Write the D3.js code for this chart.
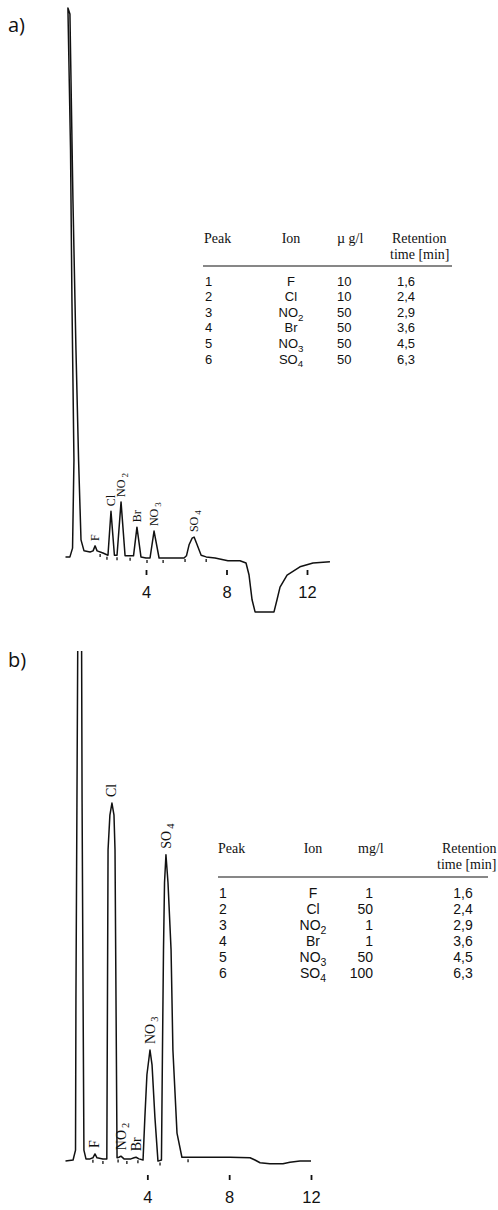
<!DOCTYPE html>
<html><head><meta charset="utf-8">
<script src="https://cdn.jsdelivr.net/npm/d3@7"></script>
<style>body{margin:0;background:#fff}svg{display:block}</style>
</head><body><svg id="c" width="498" height="1210"></svg>
<script>
// ---------- DATA ----------
const ions = ["F", "Cl", "NO2", "Br", "NO3", "SO4"];
const peakNumbers = ["1", "2", "3", "4", "5", "6"];
const retentionTimes = ["1,6", "2,4", "2,9", "3,6", "4,5", "6,3"];
const concA = ["10", "10", "50", "50", "50", "50"];
const concB = ["1", "50", "1", "1", "50", "100"];
const xTicks = [4, 8, 12];

// chromatogram a) : time [min], detector signal [arb. units]
const timeA = [0, 0.22, 0.35, 0.42, 0.32, 0.25, 0.12, 0.22, 0.37, 0.52, 0.65, 0.77, 0.92, 1.22,
  1.37, 1.47, 1.57, 1.86, 2.11, 2.26, 2.43, 2.56, 2.76, 2.96, 3.3, 3.38, 3.55, 3.75, 4.0,
  4.2, 4.4, 4.65, 5.19, 5.89, 6.01, 6.14, 6.29, 6.39, 6.54, 6.74, 6.99, 7.43, 8.07, 8.67, 8.97,
  9.12, 9.27, 9.42, 10.36, 10.51, 10.66, 11.01, 11.65, 12.3, 13.14];
const signalA = [0.2, 0.2, 1.8, 17.8, 46.9, 74.2, 100, 98.9, 65.1, 37.8, 17.8, 3.3, 1.3, 1.1,
  1.3, 2.2, 1.3, 0.9, 0.5, 8.5, 0.5, 0.5, 10.2, 0.4, 0.4, 0.4, 5.6, 0.2, 0,
  0, 4.9, 0, 0, 0, 0.4, 2.4, 3.6, 3.8, 2.4, 0.5, 0.2, 0, -0.5, -0.5, -0.9,
  -3.1, -7.6, -9.8, -9.8, -7.6, -5.3, -3.1, -1.6, -0.9, -0.7];

// chromatogram b)
const timeB = [0, 0.37, 0.49, 0.51, 0.56, 0.61, 0.66, 0.71, 0.76, 0.78, 0.81, 0.86, 0.9, 1.0,
  1.2, 1.34, 1.44, 1.54, 1.83, 2.02, 2.08, 2.17, 2.27, 2.37, 2.42, 2.52, 2.61, 2.71, 2.86,
  3.2, 3.35, 3.45, 3.59, 3.79, 3.88, 3.98, 4.13, 4.23, 4.37, 4.52, 4.69, 4.74, 4.79, 4.84,
  4.91, 5.01, 5.16, 5.25, 5.45, 5.69, 6.57, 8.04, 9.02, 9.26, 9.51, 9.99, 10.63, 10.97, 11.46, 12.0];
const signalB = [-0.2, 0, 1.8, 29, 65.5, 101.8, 156, 174.5, 156, 101.8, 65.5, 29, 1.8, 0.2,
  0.2, 0.4, 1.1, 0.4, 0.2, 0.2, 56.4, 62.7, 64.9, 62.7, 56.4, 0.4, 0.5, 0.7, 0.2,
  0.2, 0.4, 0.5, 0.2, 0, 7.8, 15.5, 20, 17.3, 7.8, -0.2, 0, 20, 38.2, 50.4,
  55.5, 50.4, 38.2, 20, 4.9, 0.5, 0.5, 0.5, 0.4, 0, -0.5, -0.7, -0.7, -0.4, -0.2, -0.2];

// peak apex times used for the ion labels
const labelTimeA = [1.47, 2.26, 2.76, 3.55, 4.4, 6.39];
const labelTimeB = [1.44, 2.27, 2.71, 3.45, 4.13, 4.91];
// integrator start/stop marks [min]
const marksA = [1.72, 2.06, 2.56, 3.21, 4.05, 4.85, 5.94, 6.99];
const marksB = [1.34, 1.83, 2.57, 3.0, 3.54, 4.62, 5.99];

// ---------- DRAW ----------
const svg = d3.select("#c");
const SANS = "'Liberation Sans', Arial, sans-serif";
const SERIF = "'Liberation Serif', 'Times New Roman', serif";

svg.append("defs").append("clipPath").attr("id", "clipB")
  .append("rect").attr("x", 0).attr("y", 651).attr("width", 498).attr("height", 600);

function ionText(sel, ion, size, subGap) {
  const m = ion.match(/^(.*?)(\d)$/);
  if (!m) { sel.text(ion); return; }
  sel.append("tspan").text(m[1]);
  sel.append("tspan").attr("dx", subGap).attr("dy", size * 0.3)
    .attr("font-size", size * 0.75).text(m[2]);
}

function valueAt(time, signal, t) {
  for (let i = time.length - 2; i >= 0; i--) {
    const a = time[i], b = time[i + 1];
    if (a <= t && t <= b && b > a) return signal[i] + (signal[i + 1] - signal[i]) * (t - a) / (b - a);
  }
  return 0;
}

function panel(o) {
  const g = svg.append("g");
  const x = d3.scaleLinear().domain([0, 12]).range(o.xRange);
  const y = d3.scaleLinear().domain([0, 100]).range(o.yRange);
  const pts = o.time.map((t, i) => [t, o.signal[i]]);
  const line = d3.line().x(d => x(d[0])).y(d => y(d[1]));
  g.append("path").datum(pts).attr("d", line)
    .attr("fill", "none").attr("stroke", "#111").attr("stroke-width", 1.5)
    .attr("stroke-linejoin", "round")
    .attr("clip-path", o.clip ? "url(#" + o.clip + ")" : null);

  // integrator marks
  g.selectAll(".mk").data(o.marks).join("line")
    .attr("x1", d => x(d)).attr("x2", d => x(d))
    .attr("y1", d => y(valueAt(o.time, o.signal, d)) + 2)
    .attr("y2", d => y(valueAt(o.time, o.signal, d)) + 5)
    .attr("stroke", "#111").attr("stroke-width", 1.3);

  // axis
  const ax = g.append("g").attr("transform", `translate(0,${o.axisY})`)
    .call(d3.axisBottom(x).tickValues(xTicks).tickSize(5).tickPadding(11).tickFormat(d3.format("d")));
  ax.select(".domain").remove();
  ax.selectAll(".tick line").attr("stroke", "#111").attr("stroke-width", 1.8);
  ax.selectAll(".tick text").attr("font-family", SANS).attr("font-size", 16.5).attr("fill", "#111");

  // ion labels
  ions.forEach((ion, i) => {
    const t = o.labelTime[i];
    const v = o.signal[o.time.indexOf(t)];
    const tx = g.append("text")
      .attr("transform", `translate(${x(t)},${y(v) - o.labelGap}) rotate(-90)`)
      .attr("font-family", SERIF).attr("font-size", o.labelSize)
      .attr("dominant-baseline", "central").attr("fill", "#111");
    ionText(tx, ion, o.labelSize, 2);
  });

  // panel letter
  svg.append("text").attr("x", 8).attr("y", o.letterY).attr("font-family", "'Open Sans', 'Noto Sans', sans-serif")
    .attr("font-size", 20).attr("fill", "#111").text(o.letter);

  // table
  const T = o.table, tg = svg.append("g").attr("fill", "#111");
  const hdr = (txt, xx, yy, anchor) => tg.append("text").attr("x", xx).attr("y", yy).attr("dy", "0.35em")
    .attr("text-anchor", anchor || "start").attr("font-family", SERIF).attr("font-size", T.hSize).text(txt);
  hdr("Peak", T.cPeak, T.hY);
  hdr("Ion", T.cIon, T.hY, "middle");
  hdr(T.unit, T.cConcH, T.hY);
  hdr("Retention", T.cRetH, T.hY);
  hdr("time [min]", T.cTime, T.hY + T.h2);
  tg.append("line").attr("x1", T.lineX[0]).attr("x2", T.lineX[1]).attr("y1", T.lineY).attr("y2", T.lineY)
    .attr("stroke", "#111").attr("stroke-width", 1.2);
  peakNumbers.forEach((p, i) => {
    const yy = T.rowY + i * T.rowH;
    const cell = (xx, anchor) => tg.append("text").attr("x", xx).attr("y", yy).attr("dy", "0.35em")
      .attr("text-anchor", anchor).attr("font-family", SANS).attr("font-size", T.bSize);
    cell(T.cPeak + 1, "start").text(p);
    ionText(cell(T.cIon, "middle"), ions[i], T.bSize, 0);
    cell(T.cConc, T.concAnchor).text(o.conc[i]);
    cell(T.cRet, "middle").text(retentionTimes[i]);
  });
}

panel({
  letter: "a)", letterY: 32,
  time: timeA, signal: signalA, xRange: [65.5, 307], yRange: [558, 8],
  marks: marksA, axisY: 570, labelTime: labelTimeA, labelSize: 12, labelGap: 5,
  conc: concA,
  table: { hSize: 14, bSize: 13, hY: 238, h2: 16, cPeak: 204, cIon: 291, cConcH: 337, cConc: 337,
    concAnchor: "start", cRetH: 392, cTime: 390, cRet: 406, lineX: [203, 452], lineY: 266, rowY: 281, rowH: 15.6, unit: "µ g/l" }
});

panel({
  letter: "b)", letterY: 667,
  time: timeB, signal: signalB, xRange: [65.5, 311], yRange: [1160, 610], clip: "clipB",
  marks: marksB, axisY: 1175, labelTime: labelTimeB, labelSize: 14, labelGap: 6,
  conc: concB,
  table: { hSize: 14, bSize: 14, hY: 848, h2: 16, cPeak: 218, cIon: 313, cConcH: 358, cConc: 373,
    concAnchor: "end", cRetH: 442, cTime: 437, cRet: 463, lineX: [218, 488], lineY: 877, rowY: 893, rowH: 16, unit: "mg/l" }
});
</script></body></html>
